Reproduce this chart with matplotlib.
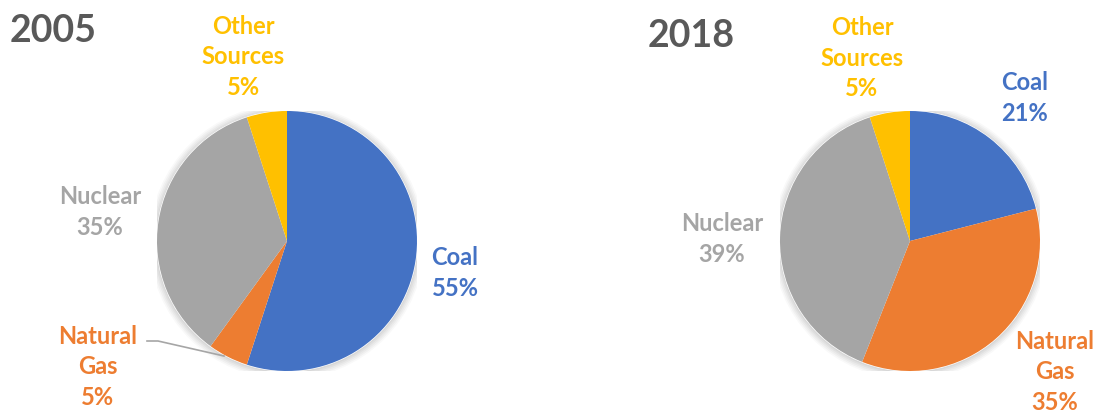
import matplotlib.pyplot as plt
import matplotlib.patches as patches

plt.rcParams["font.family"] = ["Lato", "DejaVu Sans"]

# Electricity generation mix by source
sources = ["Coal", "Natural\nGas", "Nuclear", "Other\nSources"]
share_2005 = [55, 5, 35, 5]
share_2018 = [21, 35, 39, 5]
colors = ["#4472C4", "#ED7D31", "#A5A5A5", "#FFC000"]

W, H = 1097, 414
fig = plt.figure(figsize=(W / 100, H / 100), dpi=100)
fig.patch.set_facecolor("white")

R = 130  # pie radius in pixels


def pie_axes(cx, cy):
    # square axes centred on (cx, cy) in pixel coordinates (y from top)
    ax = fig.add_axes([(cx - R) / W, (H - cy - R) / H, 2 * R / W, 2 * R / H])
    ax.set_xlim(-1, 1)
    ax.set_ylim(-1, 1)
    ax.set_aspect("equal")
    ax.axis("off")
    return ax


def px(ax, cx, cy, x, y):
    # pixel position -> data position of a pie axes centred at (cx, cy)
    return (x - cx) / R, (cy - y) / R


def draw_pie(ax, values):
    # soft shadow under the pie
    for i, a in enumerate([0.035, 0.035, 0.03, 0.03, 0.025]):
        ax.add_patch(patches.Circle((0.0, -0.005), 1.0 + 0.012 * (i + 1),
                                    color="black", alpha=a, lw=0, zorder=0))
    ax.add_patch(patches.Circle((0, 0), 1.0, color="white", zorder=0.5))
    ax.pie(values, colors=colors, startangle=90, counterclock=False, radius=1.0,
           wedgeprops=dict(linewidth=0), frame=False)
    ax.set_xlim(-1, 1)
    ax.set_ylim(-1, 1)


label_kw = dict(ha="center", va="center", fontsize=17, fontweight="bold",
                linespacing=1.4, clip_on=False)

# 2005
c1 = (287, 242)
ax1 = pie_axes(*c1)
draw_pie(ax1, share_2005)
fig.text(10 / W, 1 - 31 / H, "2005", fontsize=27, fontweight="bold",
         color="#595959", ha="left", va="center")
pos_2005 = [(455, 273), (98, 367), (100, 212), (243, 57)]
for name, val, col, (x, y) in zip(sources, share_2005, colors, pos_2005):
    ax1.text(*px(ax1, *c1, x, y), f"{name}\n{val}%", color=col, **label_kw)
# leader line for the small natural gas slice
lx, ly = zip(px(ax1, *c1, 147, 342), px(ax1, *c1, 158, 342), px(ax1, *c1, 224, 357))
ax1.plot(lx, ly, color="#A6A6A6", lw=1.2, clip_on=False)

# 2018
c2 = (910, 242)
ax2 = pie_axes(*c2)
draw_pie(ax2, share_2018)
fig.text(648 / W, 1 - 36 / H, "2018", fontsize=27, fontweight="bold",
         color="#595959", ha="left", va="center")
pos_2018 = [(1025, 98), (1055, 372), (722, 239), (862, 58)]
for name, val, col, (x, y) in zip(sources, share_2018, colors, pos_2018):
    ax2.text(*px(ax2, *c2, x, y), f"{name}\n{val}%", color=col, **label_kw)

fig.savefig("out.png", dpi=100)
